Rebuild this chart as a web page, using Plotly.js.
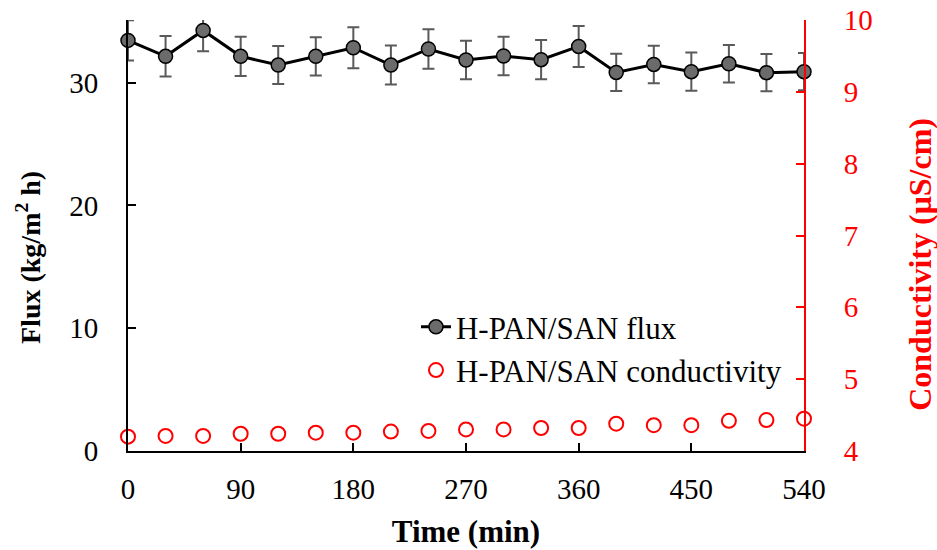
<!DOCTYPE html>
<html>
<head>
<meta charset="utf-8">
<script src="https://cdn.plot.ly/plotly-3.0.1.min.js"></script>
<style>html,body{margin:0;padding:0;background:#fff;}#chart{width:937px;height:550px;}</style>
</head>
<body>
<div id="chart"></div>
<script>
const timeMin = [0,30,60,90,120,150,180,210,240,270,300,330,360,390,420,450,480,510,540];
const fluxValues = [33.44,32.14,34.25,32.14,31.43,32.14,32.84,31.43,32.74,31.84,32.17,31.87,32.95,30.83,31.48,30.89,31.54,30.81,30.89];
const fluxErrors = [1.63,1.65,1.7,1.6,1.55,1.56,1.67,1.59,1.6,1.57,1.56,1.6,1.67,1.52,1.53,1.56,1.53,1.52,1.52];
const conductivityValues = [4.20,4.21,4.21,4.24,4.24,4.255,4.255,4.27,4.28,4.30,4.30,4.32,4.32,4.38,4.36,4.36,4.42,4.43,4.45];
const xTicks = [0,90,180,270,360,450,540];
const seriesNames = ["H-PAN/SAN flux","H-PAN/SAN conductivity"];
const titles = {x: "Time (min)", y: "Flux (kg/m<sup>2</sup> h)", y2: "Conductivity (μS/cm)"};

const serif = "Liberation Serif, Times New Roman, serif";

const traces = [
  {
    x: timeMin, y: fluxValues, name: seriesNames[0], type: "scatter", mode: "lines+markers",
    yaxis: "y", cliponaxis: false,
    line: {color: "#000000", width: 3},
    marker: {symbol: "circle", size: 14, color: "#6b6b6b", line: {color: "#000000", width: 1.5}},
    error_y: {type: "data", array: fluxErrors, visible: true, color: "#5a5a5a", thickness: 2, width: 6}
  },
  {
    x: timeMin, y: conductivityValues, name: seriesNames[1], type: "scatter", mode: "markers",
    yaxis: "y2", cliponaxis: false,
    marker: {symbol: "circle-open", size: 14, color: "#ff0000", line: {color: "#ff0000", width: 2}}
  }
];

const layout = {
  width: 937, height: 550,
  margin: {l: 128, r: 133, t: 20, b: 99, pad: 0},
  paper_bgcolor: "#ffffff", plot_bgcolor: "#ffffff",
  font: {family: serif, size: 28, color: "#000000"},
  showlegend: true,
  legend: {x: 0.426, y: 0.35, xanchor: "left", yanchor: "top", bgcolor: "rgba(0,0,0,0)",
    font: {family: serif, size: 31, color: "#000000"}, tracegroupgap: 0},
  xaxis: {
    range: [0, 540], tickvals: xTicks, ticktext: xTicks.map(String),
    showgrid: false, zeroline: false, showline: true, linecolor: "#000000", linewidth: 2,
    ticks: "inside", ticklen: 8, tickwidth: 2, tickcolor: "#000000",
    ticklabelstandoff: 11,
    tickfont: {family: serif, size: 29, color: "#000000"},
    title: {text: "<b>" + titles.x + "</b>", font: {family: serif, size: 31, color: "#000000"}, standoff: 17}
  },
  yaxis: {
    range: [0, 35.1], dtick: 10, tick0: 0,
    showgrid: false, zeroline: false, showline: true, linecolor: "#000000", linewidth: 2,
    ticks: "inside", ticklen: 8, tickwidth: 2, tickcolor: "#000000",
    ticklabelstandoff: 22,
    tickfont: {family: serif, size: 29, color: "#000000"}
  },
  yaxis2: {
    range: [4, 10], dtick: 1, tick0: 4, overlaying: "y", side: "right",
    showgrid: false, zeroline: false, showline: true, linecolor: "#ff0000", linewidth: 2,
    ticks: "inside", ticklen: 8, tickwidth: 2, tickcolor: "#ff0000",
    ticklabelstandoff: 32,
    tickfont: {family: serif, size: 29, color: "#ff0000"}
  },
  annotations: [
    {text: "<b>" + titles.y + "</b>", xref: "paper", yref: "paper", x: -0.148, y: 0.45,
     xanchor: "center", yanchor: "middle", textangle: -90, showarrow: false,
     font: {family: serif, size: 28, color: "#000000"}},
    {text: "<b>" + titles.y2 + "</b>", xref: "paper", yref: "paper", x: 1.1716, y: 0.432,
     xanchor: "center", yanchor: "middle", textangle: -90, showarrow: false,
     font: {family: serif, size: 32, color: "#ff0000"}}
  ]
};

Plotly.newPlot("chart", traces, layout, {displayModeBar: false, staticPlot: true});
</script>
</body>
</html>
